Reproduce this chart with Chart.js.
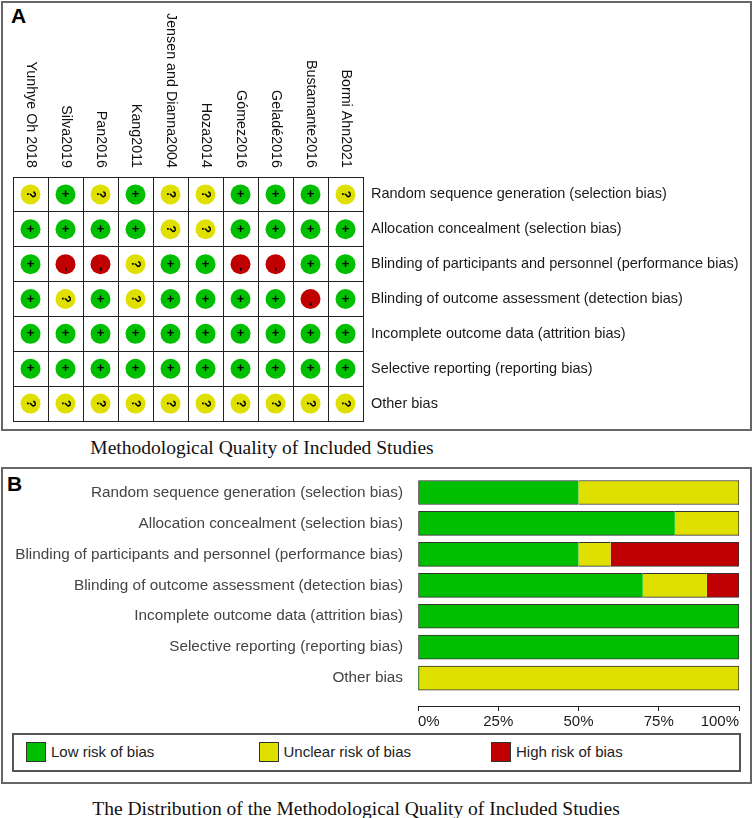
<!DOCTYPE html>
<html>
<head>
<meta charset="utf-8">
<script src="https://cdn.jsdelivr.net/npm/chart.js@4.4.1/dist/chart.umd.min.js"></script>
<style>
  body { margin: 0; background: #fff; }
  #page { position: relative; width: 754px; height: 818px; overflow: hidden; font-family: "Liberation Sans", Arial, sans-serif; }
  .panel { position: absolute; box-sizing: border-box; border: 2px solid #666; }
  .tag { position: absolute; font: bold 21px "Liberation Sans", Arial, sans-serif; color: #000; }
  .caption { position: absolute; text-align: center; font: 19.5px "Liberation Serif", "Times New Roman", serif; color: #111; line-height: 22px; }
  canvas { position: absolute; }
  #legendB { position: absolute; left: 12px; top: 733px; width: 729px; height: 39px; box-sizing: border-box; border: 2px solid #555; }
  .item { position: absolute; top: 7px; height: 20px; font-size: 15px; line-height: 20px; color: #222; white-space: nowrap; }
  .item span { display: inline-block; width: 18px; height: 18px; border: 1px solid #333; vertical-align: top; margin-right: 5px; }
</style>
</head>
<body>
<div id="page">
  <div class="panel" style="left:1px; top:1px; width:751px; height:430px;"></div>
  <div class="tag" style="left:11px; top:4px;">A</div>
  <canvas id="chartA" width="754" height="432" style="left:0; top:0;"></canvas>
  <div class="caption" style="left:0; top:437px; width:524px;">Methodological Quality of Included Studies</div>

  <div class="panel" style="left:1px; top:467px; width:751px; height:317px;"></div>
  <div class="tag" style="left:7px; top:472px;">B</div>
  <canvas id="chartB" width="754" height="270" style="left:0; top:460px;"></canvas>
  <div id="legendB"></div>
  <div class="caption" style="left:0; top:798px; width:712px;">The Distribution of the Methodological Quality of Included Studies</div>
</div>
<script>
const studies = ["Yunhye Oh 2018", "Silva2019", "Pan2016", "Kang2011", "Jensen and Dianna2004",
  "Hoza2014", "Gómez2016", "Geladé2016", "Bustamante2016", "Bormi Ahn2021"];
const domains = [
  "Random sequence generation (selection bias)",
  "Allocation concealment (selection bias)",
  "Blinding of participants and personnel (performance bias)",
  "Blinding of outcome assessment (detection bias)",
  "Incomplete outcome data (attrition bias)",
  "Selective reporting (reporting bias)",
  "Other bias"
];

// one judgement per study: L = low, U = unclear, H = high
const randomSeq = ["U", "L", "U", "L", "U", "U", "L", "L", "L", "U"];
const allocation = ["L", "L", "L", "L", "U", "U", "L", "L", "L", "L"];
const blindPart = ["L", "H", "H", "U", "L", "L", "H", "H", "L", "L"];
const blindOutcome = ["L", "U", "L", "U", "L", "L", "L", "L", "H", "L"];
const incomplete = ["L", "L", "L", "L", "L", "L", "L", "L", "L", "L"];
const selective = ["L", "L", "L", "L", "L", "L", "L", "L", "L", "L"];
const otherBias = ["U", "U", "U", "U", "U", "U", "U", "U", "U", "U"];

// percentages of studies per domain (panel B)
const lowPct = [50, 80, 50, 70, 100, 100, 0];
const unclearPct = [50, 20, 10, 20, 0, 0, 100];
const highPct = [0, 0, 40, 10, 0, 0, 0];
const legendLabels = ["Low risk of bias", "Unclear risk of bias", "High risk of bias"];
const pctTicks = [0, 25, 50, 75, 100];

const GREEN = "#00bf00", YELLOW = "#e0e000", RED = "#c00000";
const fill = { L: GREEN, U: YELLOW, H: RED };
const FONT = "'Liberation Sans', Arial, sans-serif";

// ---- Panel A: risk of bias summary grid ----
const judgements = [randomSeq, allocation, blindPart, blindOutcome, incomplete, selective, otherBias];
const points = [];
judgements.forEach((row, i) => {
  row.forEach((j, k) => points.push({ x: studies[k], y: domains[i], j: j }));
});

const symbols = {
  id: "symbols",
  afterDatasetsDraw(chart) {
    const ctx = chart.ctx;
    ctx.save();
    ctx.fillStyle = "#000";
    ctx.textAlign = "center";
    ctx.textBaseline = "middle";
    chart.getDatasetMeta(0).data.forEach((pt, n) => {
      const j = points[n].j;
      ctx.save();
      ctx.translate(pt.x, pt.y);
      if (j === "L") {
        ctx.font = "bold 13px " + FONT;
        ctx.fillText("+", 0, 0);
      } else if (j === "U") {
        ctx.rotate(Math.PI / 2);
        ctx.font = "bold 12px " + FONT;
        ctx.fillText("?", 0, 0);
      } else {
        ctx.rotate(Math.PI / 2);
        ctx.font = "bold 12px " + FONT;
        ctx.fillText("-", 5, 0);
      }
      ctx.restore();
    });
    ctx.restore();
  }
};

// study names are written top-to-bottom above each column
const studyLabels = {
  id: "studyLabels",
  afterDraw(chart) {
    const ctx = chart.ctx, xs = chart.scales.x;
    ctx.save();
    ctx.font = "14.3px " + FONT;
    ctx.fillStyle = "#111";
    ctx.textAlign = "right";
    ctx.textBaseline = "middle";
    xs.ticks.forEach((t, i) => {
      ctx.save();
      ctx.translate(xs.getPixelForTick(i), chart.chartArea.top - 9);
      ctx.rotate(Math.PI / 2);
      ctx.fillText(xs.getLabelForValue(t.value), 0, 0);
      ctx.restore();
    });
    ctx.restore();
  }
};

new Chart(document.getElementById("chartA"), {
  type: "scatter",
  data: {
    datasets: [{
      data: points,
      pointRadius: 10,
      pointBorderWidth: 0,
      pointBackgroundColor: (c) => fill[c.raw.j],
      pointHoverRadius: 10
    }]
  },
  options: {
    responsive: false,
    animation: false,
    layout: { padding: { left: 13, top: 177, right: 0, bottom: 11 } },
    plugins: { legend: { display: false }, tooltip: { enabled: false } },
    scales: {
      x: {
        type: "category",
        labels: studies,
        position: "top",
        offset: true,
        grid: { offset: true, color: "#222", lineWidth: 1, drawTicks: false },
        border: { color: "#222" },
        ticks: { display: false },
        afterFit: (s) => { s.height = 0; }
      },
      y: {
        type: "category",
        labels: domains,
        position: "right",
        offset: true,
        grid: { offset: true, color: "#222", lineWidth: 1, drawTicks: false },
        border: { color: "#222" },
        ticks: { color: "#1a1a1a", font: { family: FONT, size: 14.5 }, padding: 8 },
        afterFit: (s) => { s.width = 391; s.paddingTop = 0; s.paddingBottom = 0; }
      }
    }
  },
  plugins: [symbols, studyLabels]
});

// ---- Panel B: stacked percentage bars ----
const series = [lowPct, unclearPct, highPct];

function edges(c) {
  const i = c.dataIndex, d = c.datasetIndex;
  if (!series[d][i]) return 0;
  let start = 0;
  for (let k = 0; k < d; k++) start += series[k][i];
  const end = start + series[d][i];
  return { top: 1, bottom: 1, left: start === 0 ? 1 : 0, right: end === 100 ? 1 : 0 };
}

const chartB = new Chart(document.getElementById("chartB"), {
  type: "bar",
  data: {
    datasets: series.map((vals, d) => ({
      label: legendLabels[d],
      data: vals.map((v, i) => ({ x: v, y: i })),
      backgroundColor: [GREEN, YELLOW, RED][d],
      borderColor: "#333",
      borderWidth: edges,
      borderSkipped: false,
      barThickness: 24
    }))
  },
  options: {
    indexAxis: "y",
    responsive: false,
    animation: false,
    layout: { padding: { left: 0, top: 17, right: 15, bottom: 0 } },
    plugins: { legend: { display: false }, tooltip: { enabled: false } },
    scales: {
      x: {
        stacked: true,
        min: 0,
        max: 100,
        grid: { drawOnChartArea: false, tickLength: 5, color: "#222" },
        border: { color: "#222" },
        afterBuildTicks: (s) => { s.ticks = pctTicks.map((v) => ({ value: v })); },
        ticks: {
          align: "inner",
          padding: 2,
          color: "#1a1a1a",
          font: { family: FONT, size: 15 },
          callback: (v) => v + "%"
        },
        afterFit: (s) => { s.height = 24; s.paddingLeft = 0; s.paddingRight = 0; }
      },
      y: {
        type: "linear",
        stacked: true,
        reverse: true,
        offset: false,
        min: -0.5,
        max: 6.9,
        grid: { display: false, drawTicks: false },
        border: { display: false },
        afterBuildTicks: (s) => { s.ticks = domains.map((d, i) => ({ value: i })); },
        ticks: {
          color: "#444",
          font: { family: FONT, size: 15.3 },
          padding: 15,
          callback: (v) => domains[v]
        },
        afterFit: (s) => { s.width = 418; s.paddingTop = 0; s.paddingBottom = 0; }
      }
    }
  }
});

// legend entries come from the chart's datasets
const legendBox = document.getElementById("legendB");
chartB.data.datasets.forEach((ds, i) => {
  const item = document.createElement("div");
  item.className = "item";
  item.style.left = (12 + i * 232.5) + "px";
  const sw = document.createElement("span");
  sw.style.background = ds.backgroundColor;
  item.appendChild(sw);
  item.appendChild(document.createTextNode(ds.label));
  legendBox.appendChild(item);
});
</script>
</body>
</html>
